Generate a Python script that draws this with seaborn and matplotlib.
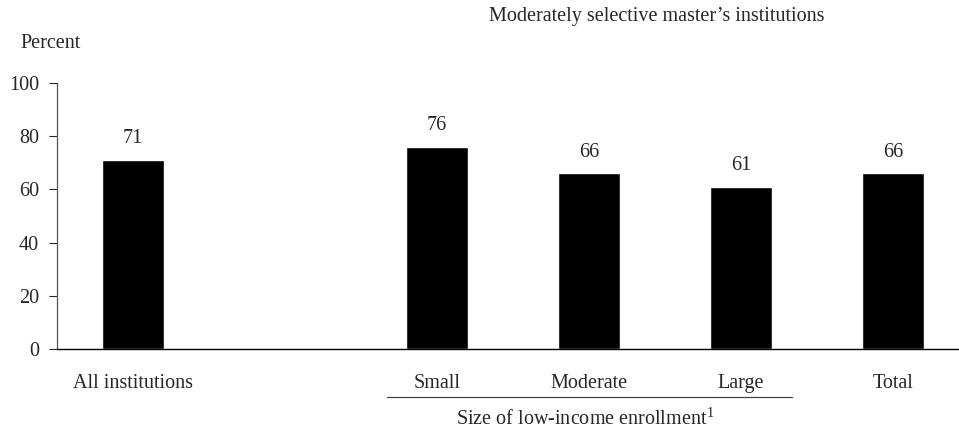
import matplotlib
matplotlib.use("Agg")
import matplotlib.pyplot as plt
import seaborn as sns
import pandas as pd

# values
groups = ["All institutions", "Small", "Moderate", "Large", "Total"]
percent = [71, 76, 66, 61, 66]
slot_order = ["All institutions", " ", "Small", "Moderate", "Large", "Total"]

df = pd.DataFrame({"group": groups, "percent": percent})

sns.set_style("white")
plt.rcParams["font.family"] = ["Liberation Serif", "DejaVu Serif"]
plt.rcParams["mathtext.fontset"] = "custom"
plt.rcParams["mathtext.rm"] = "Liberation Serif"
plt.rcParams["font.size"] = 14.5

fig = plt.figure(figsize=(9.59, 4.37), dpi=100)
ax = fig.add_axes([57 / 959, 1 - 349 / 437, 912 / 959, 266 / 437])

sns.barplot(data=df, x="group", y="percent", order=slot_order, color="black",
            width=0.414, saturation=1, ax=ax)

for p in ax.patches:
    h = p.get_height()
    if h != h or h == 0:
        continue
    ax.annotate(f"{h:.0f}", (p.get_x() + p.get_width() / 2, h),
                xytext=(0, 8.5), textcoords="offset points",
                ha="center", va="bottom", fontsize=14.5)

ax.set_ylim(0, 100)
ax.set_xlim(-0.5, 5.5)
ax.set_yticks([0, 20, 40, 60, 80, 100])
ax.set_xlabel("")
ax.set_ylabel("")
ax.tick_params(axis="y", length=6, width=0.8, pad=7, direction="out", left=True)
ax.tick_params(axis="x", length=0, pad=18)
for s in ["top", "right"]:
    ax.spines[s].set_visible(False)
ax.spines["left"].set_color("#555555")
ax.spines["bottom"].set_color("black")
ax.spines["left"].set_linewidth(0.9)
ax.spines["bottom"].set_linewidth(1.0)

fig.text(20 / 959, 1 - 44 / 437, "Percent", ha="left", va="center", fontsize=14.5)
fig.text(657 / 959, 1 - 17 / 437, "Moderately selective master\u2019s institutions",
         ha="center", va="center", fontsize=14.5)
fig.add_artist(plt.Line2D([387 / 959, 792 / 959], [1 - 397 / 437, 1 - 397 / 437],
                          color="#444444", linewidth=0.9))
fig.text(585 / 959, 1 - 419 / 437, "Size of low-income enrollment$^{\\mathrm{1}}$",
         ha="center", va="center", fontsize=14.5)

fig.savefig("out.png", dpi=100)
